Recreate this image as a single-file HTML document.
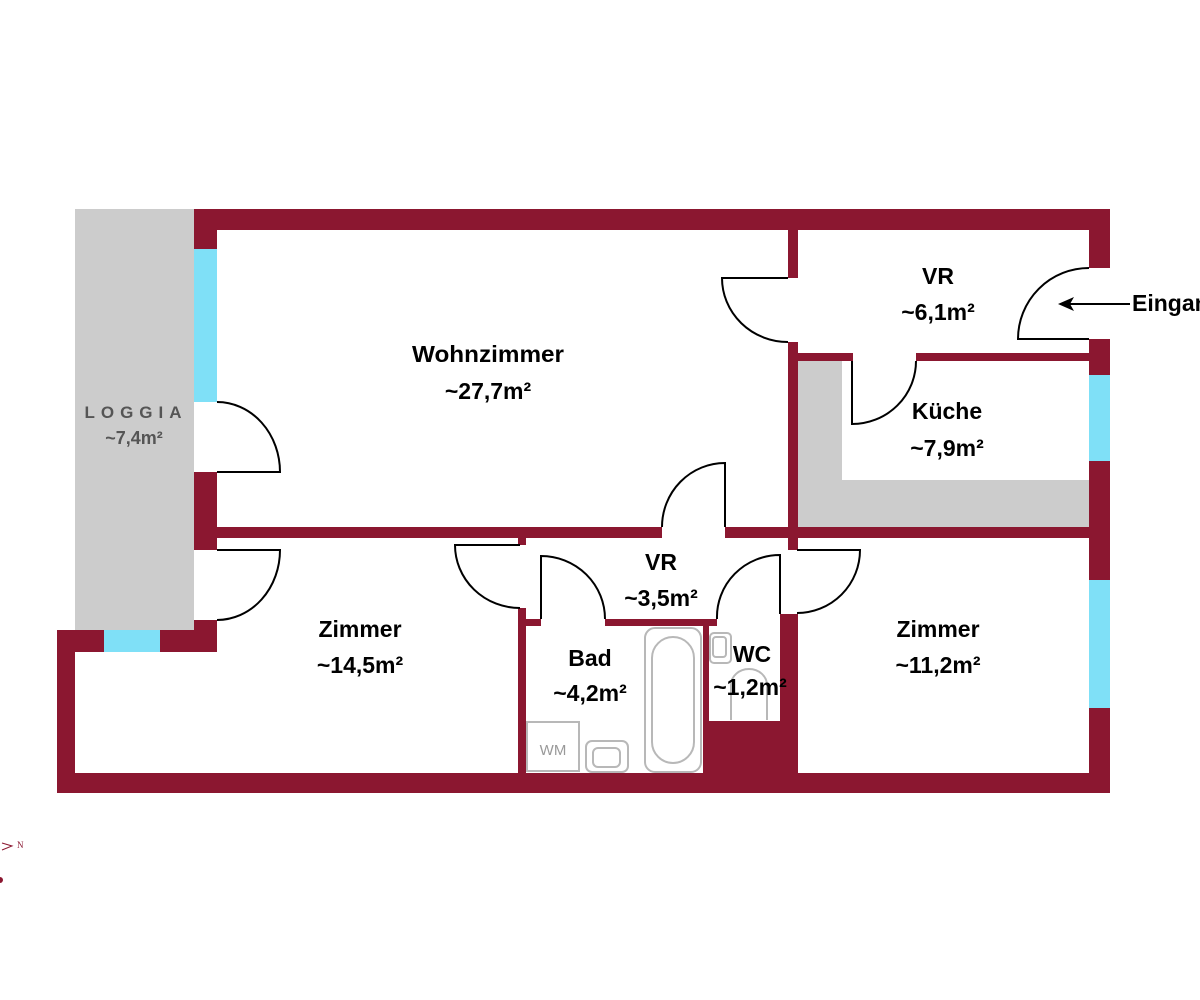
<!DOCTYPE html>
<html><head><meta charset="utf-8"><style>
html,body{margin:0;padding:0;background:#fff;}
svg{display:block;}
text{font-family:"Liberation Sans",sans-serif;font-weight:bold;}
</style></head><body>
<svg width="1200" height="1000" viewBox="0 0 1200 1000" xmlns="http://www.w3.org/2000/svg">
<rect width="1200" height="1000" fill="#fff"/>
<rect x="75" y="209" width="119" height="421" fill="#cccccc"/>
<rect x="797" y="361" width="45" height="166" fill="#cccccc"/>
<rect x="797" y="480" width="292" height="47" fill="#cccccc"/>
<g fill="#8b1730">
<rect x="194" y="209" width="916" height="21"/>
<rect x="1089" y="209" width="21" height="59"/>
<rect x="1089" y="339" width="21" height="36"/>
<rect x="1089" y="461" width="21" height="119"/>
<rect x="1089" y="708" width="21" height="85"/>
<rect x="57" y="773" width="1053" height="20"/>
<rect x="57" y="630" width="18" height="163"/>
<rect x="57" y="630" width="47" height="22"/>
<rect x="160" y="630" width="57" height="22"/>
<rect x="194" y="209" width="23" height="40"/>
<rect x="194" y="472" width="23" height="78"/>
<rect x="194" y="620" width="23" height="32"/>
<rect x="217" y="527" width="445" height="11"/>
<rect x="725" y="527" width="364" height="11"/>
<rect x="518" y="537" width="8" height="8"/>
<rect x="788" y="230" width="10" height="48"/>
<rect x="788" y="342" width="10" height="208"/>
<rect x="797" y="353" width="56" height="8"/>
<rect x="916" y="353" width="173" height="8"/>
<rect x="518" y="608" width="8" height="165"/>
<rect x="518" y="619" width="23" height="7"/>
<rect x="605" y="619" width="112" height="7"/>
<rect x="703" y="619" width="6" height="154"/>
<rect x="708" y="721" width="74" height="52"/>
<rect x="780" y="614" width="18" height="159"/>
</g>
<g fill="#7fe0f7">
<rect x="194" y="249" width="23" height="153"/>
<rect x="104" y="630" width="56" height="22"/>
<rect x="1089" y="375" width="21" height="86"/>
<rect x="1089" y="580" width="21" height="128"/>
</g>
<g fill="none" stroke="#000" stroke-width="2">
<path d="M217 472 H280 A63 70 0 0 0 217 402"/>
<path d="M217 550 H280 A63 70 0 0 1 217 620"/>
<path d="M788 278 H722 A66 64 0 0 0 788 342"/>
<path d="M1089 339 H1018 A71 71 0 0 1 1089 268"/>
<path d="M852 361 V424 A64 63 0 0 0 916 361"/>
<path d="M725 527 V463 A63 64 0 0 0 662 527"/>
<path d="M520 545 H455 A65 63 0 0 0 520 608"/>
<path d="M541 619 V556 A64 63 0 0 1 605 619"/>
<path d="M780 614 V555 A63 62 0 0 0 717 619"/>
<path d="M797 550 H860 A63 63 0 0 1 797 613"/>
<line x1="1130" y1="304" x2="1068" y2="304"/>
</g>
<path d="M1058 304 L1074 297 L1070 304 L1074 311 Z" fill="#000"/>
<g fill="none" stroke="#b8b8b8" stroke-width="2">
<rect x="645" y="628" width="56" height="144" rx="10"/>
<rect x="652" y="637" width="42" height="126" rx="21"/>
<rect x="527" y="722" width="52" height="49"/>
<rect x="586" y="741" width="42" height="31" rx="6"/>
<rect x="593" y="748" width="27" height="19" rx="5"/>
<rect x="710" y="633" width="21" height="30" rx="4"/>
<rect x="713" y="637" width="13" height="20" rx="3"/>
<path d="M731 720 V685 A18 16 0 0 1 767 685 V720"/>
</g>
<text x="553" y="755" font-size="15" fill="#999" text-anchor="middle" style="font-weight:normal">WM</text>
<g font-size="23" fill="#000" text-anchor="middle">
<text x="488" y="362" textLength="152" lengthAdjust="spacingAndGlyphs">Wohnzimmer</text>
<text x="488" y="399">~27,7m²</text>
<text x="938" y="284">VR</text>
<text x="938" y="320">~6,1m²</text>
<text x="947" y="419">Küche</text>
<text x="947" y="456">~7,9m²</text>
<text x="661" y="570">VR</text>
<text x="661" y="606">~3,5m²</text>
<text x="590" y="666">Bad</text>
<text x="590" y="701">~4,2m²</text>
<text x="752" y="662">WC</text>
<text x="750" y="695">~1,2m²</text>
<text x="360" y="637">Zimmer</text>
<text x="360" y="673">~14,5m²</text>
<text x="938" y="637">Zimmer</text>
<text x="938" y="673">~11,2m²</text>
<text x="1132" y="311" text-anchor="start">Eingang</text>
</g>
<text x="136" y="418" font-size="17" fill="#555" text-anchor="middle" letter-spacing="6">LOGGIA</text>
<text x="134" y="444" font-size="18" fill="#555" text-anchor="middle">~7,4m²</text>
<g stroke="#8b1730" stroke-width="1" fill="none">
<path d="M2 850 L12 846 L2 843"/>
</g>
<text x="17" y="848" font-size="9" fill="#8b1730" style="font-family:'Liberation Serif',serif;font-weight:normal">N</text>
<circle cx="0" cy="880" r="3" fill="#8b1730"/>
</svg>
</body></html>
